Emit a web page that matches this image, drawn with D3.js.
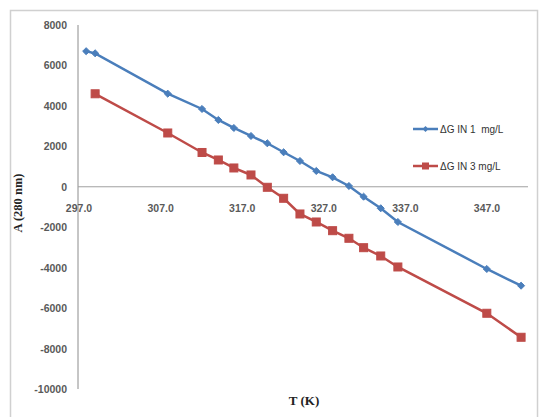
<!DOCTYPE html>
<html><head><meta charset="utf-8">
<script src="https://cdn.jsdelivr.net/npm/d3@7"></script>
<style>body{margin:0;background:#fff}svg{display:block}</style>
</head><body>
<script>
const tempsBlue = [298.0,299.1,308.0,312.2,314.2,316.1,318.2,320.2,322.2,324.2,326.2,328.2,330.2,332.0,334.1,336.2,347.1,351.3];
const valuesBlue = [6705,6600,4604,3847,3303,2908,2512,2151,1706,1276,781,470,40,-490,-1063,-1741,-4065,-4891];
const tempsRed = [299.1,308.0,312.2,314.2,316.1,318.2,320.2,322.2,324.2,326.2,328.2,330.2,332.0,334.1,336.2,347.1,351.3];
const valuesRed = [4599,2660,1696,1325,930,584,-25,-569,-1345,-1741,-2171,-2547,-3012,-3422,-3966,-6255,-7442];
const xTicks = [297,307,317,327,337,347];
const yTicks = [8000,6000,4000,2000,0,-2000,-4000,-6000,-8000,-10000];
const seriesNames = ["\u0394G IN 1  mg/L","\u0394G IN 3 mg/L"];

const W=539,H=417;
const svg=d3.select("body").append("svg").attr("width",W).attr("height",H);
svg.append("rect").attr("x",10.5).attr("y",10.5).attr("width",527).attr("height",420)
  .attr("fill","#fff").attr("stroke","#d0d0d0").attr("stroke-width",1.5);

const x=d3.scaleLinear().domain([297,347]).range([78,486]);
const y=d3.scaleLinear().domain([-10000,8000]).range([389,25]);

svg.append("line").attr("x1",78).attr("x2",78).attr("y1",y(8000)).attr("y2",y(-10000)).attr("stroke","#8c8c8c").attr("stroke-width",1);
svg.append("line").attr("x1",78).attr("x2",528).attr("y1",y(0)).attr("y2",y(0)).attr("stroke","#a0a0a0").attr("stroke-width",1);

const lab={"font-family":"Liberation Sans, Arial, sans-serif","font-size":"10.5px","font-weight":"bold","fill":"#5a5a5a"};
function st(sel,o){for(const k in o)sel.style(k,o[k]);return sel;}
st(svg.append("g").selectAll("text").data(yTicks).join("text")
  .attr("x",67).attr("y",d=>y(d)+4).attr("text-anchor","end").text(d=>d),lab);
st(svg.append("g").selectAll("text").data(xTicks).join("text")
  .attr("x",d=>x(d)+1).attr("y",y(0)+25).attr("text-anchor","middle").text(d=>d.toFixed(1)),lab);

svg.append("text").attr("transform","translate(22,203) rotate(-90)").attr("text-anchor","middle")
  .style("font-family","Liberation Serif, Times New Roman, serif").style("font-size","12.5px").style("font-weight","bold").style("fill","#222")
  .text("A (280 nm)");
svg.append("text").attr("x",304).attr("y",405).attr("text-anchor","middle")
  .style("font-family","Liberation Serif, Times New Roman, serif").style("font-size","13px").style("font-weight","bold").style("fill","#222")
  .text("T (K)");

const blue="#4a7ebb", red="#be4b48";
const line=d3.line().x(d=>x(d[0])).y(d=>y(d[1]));
const bData=tempsBlue.map((t,i)=>[t,valuesBlue[i]]);
const rData=tempsRed.map((t,i)=>[t,valuesRed[i]]);
svg.append("path").datum(bData).attr("d",line).attr("fill","none").attr("stroke",blue).attr("stroke-width",2.5);
svg.append("path").datum(rData).attr("d",line).attr("fill","none").attr("stroke",red).attr("stroke-width",2.5);
const diamond=d3.symbol().type(d3.symbolDiamond2).size(32);
svg.append("g").selectAll("path").data(bData).join("path")
  .attr("transform",d=>`translate(${x(d[0])},${y(d[1])})`).attr("d",diamond).attr("fill",blue).attr("stroke",blue).attr("stroke-width",1);
const sq=8;
svg.append("g").selectAll("rect").data(rData).join("rect")
  .attr("x",d=>x(d[0])-sq/2).attr("y",d=>y(d[1])-sq/2).attr("width",sq).attr("height",sq)
  .attr("fill",red).attr("stroke",red).attr("stroke-width",1);

const lg=svg.append("g");
const ly=[129,166];
lg.append("line").attr("x1",413).attr("x2",438).attr("y1",ly[0]).attr("y2",ly[0]).attr("stroke",blue).attr("stroke-width",2.5);
lg.append("path").attr("transform",`translate(425.5,${ly[0]})`).attr("d",d3.symbol().type(d3.symbolDiamond2).size(22)).attr("fill",blue);
lg.append("line").attr("x1",413).attr("x2",438).attr("y1",ly[1]).attr("y2",ly[1]).attr("stroke",red).attr("stroke-width",2.5);
lg.append("rect").attr("x",422).attr("y",ly[1]-3.5).attr("width",7).attr("height",7).attr("fill",red);
lg.selectAll("text").data(seriesNames).join("text").attr("x",440).attr("y",(d,i)=>ly[i]+3.5)
  .style("font-family","Liberation Sans, Arial, sans-serif").style("font-size","10px").style("fill","#333")
  .style("white-space","pre").attr("xml:space","preserve").text(d=>d);
</script>
</body></html>
